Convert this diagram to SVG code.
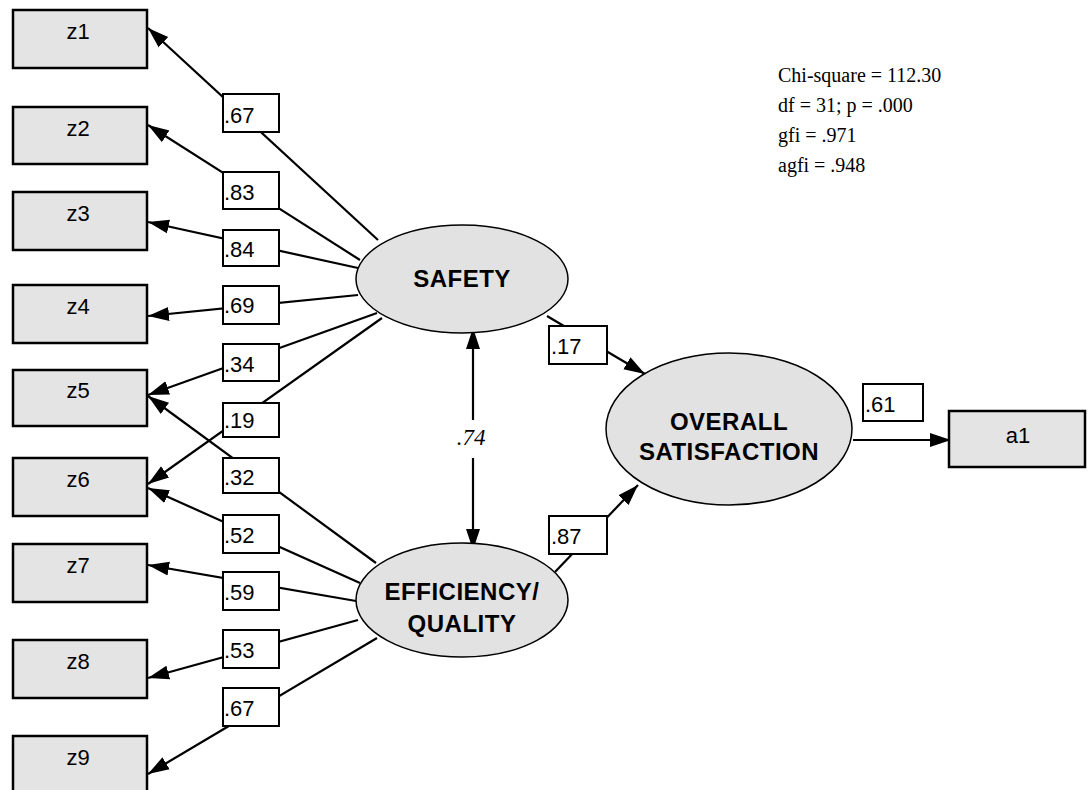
<svg xmlns="http://www.w3.org/2000/svg" width="1090" height="790" viewBox="0 0 1090 790">
  <style>
    .obs { fill: #e4e4e4; stroke: #000; stroke-width: 2.5; }
    .lat { fill: #e2e2e2; stroke: #000; stroke-width: 1.5; }
    .lbl { fill: #fff; stroke: #000; stroke-width: 2; }
    .edge { stroke: #000; stroke-width: 2.2; fill: none; marker-end: url(#arrow); }
    .obs-t { font-family: "Liberation Sans", Arial, sans-serif; font-size: 22px; text-anchor: middle; fill: #000; }
    .lat-t { font-family: "Liberation Sans", Arial, sans-serif; font-size: 24px; font-weight: bold; text-anchor: middle; fill: #000; letter-spacing: 0.5px; }
    .num { font-family: "Liberation Sans", Arial, sans-serif; font-size: 22px; fill: #000; }
    .fit { font-family: "Liberation Serif", "Times New Roman", serif; font-size: 20px; fill: #000; }
  </style>
  <defs>
    <marker id="arrow" markerUnits="userSpaceOnUse" markerWidth="22" markerHeight="16" refX="21" refY="8" orient="auto">
      <path d="M0,1 L21,8 L0,15 z" fill="#000"/>
    </marker>
  </defs>
  <rect width="1090" height="790" fill="#fff"/>

  <!-- path lines -->
  <g id="connectors">
    <!-- SAFETY indicators -->
    <line class="edge" x1="378" y1="240" x2="148" y2="28"/>
    <line class="edge" x1="360" y1="260" x2="148" y2="125"/>
    <line class="edge" x1="358" y1="268" x2="148" y2="222"/>
    <line class="edge" x1="358" y1="295" x2="148" y2="316"/>
    <line class="edge" x1="377" y1="313" x2="148" y2="395"/>
    <line class="edge" x1="382" y1="318" x2="148" y2="484"/>
    <!-- EFFICIENCY/QUALITY indicators -->
    <line class="edge" x1="376" y1="563" x2="148" y2="396"/>
    <line class="edge" x1="360" y1="583" x2="148" y2="488"/>
    <line class="edge" x1="356" y1="601" x2="148" y2="565"/>
    <line class="edge" x1="358" y1="620" x2="148" y2="678"/>
    <line class="edge" x1="377" y1="638" x2="148" y2="774"/>
    <!-- structural paths -->
    <line class="edge" x1="547" y1="316" x2="645" y2="374"/>
    <line class="edge" x1="555" y1="572" x2="638" y2="485"/>
    <line class="edge" x1="853" y1="440" x2="951" y2="440"/>
    <!-- correlation -->
    <line class="edge" x1="473" y1="420" x2="473" y2="328"/>
    <line class="edge" x1="473" y1="458" x2="473" y2="550"/>
  </g>

  <!-- coefficient labels -->
  <g id="coefficients">
    <g id="c-z1"><rect class="lbl" x="223" y="94" width="56" height="38"/><text class="num" x="224" y="123">.67</text></g>
    <g id="c-z2"><rect class="lbl" x="223" y="172" width="56" height="37"/><text class="num" x="224" y="200">.83</text></g>
    <g id="c-z3"><rect class="lbl" x="223" y="230" width="56" height="36"/><text class="num" x="224" y="257">.84</text></g>
    <g id="c-z4"><rect class="lbl" x="223" y="286" width="56" height="38"/><text class="num" x="224" y="313">.69</text></g>
    <g id="c-z5a"><rect class="lbl" x="223" y="344" width="56" height="37"/><text class="num" x="224" y="372">.34</text></g>
    <g id="c-z6a"><rect class="lbl" x="223" y="403" width="56" height="34"/><text class="num" x="224" y="428">.19</text></g>
    <g id="c-z5b"><rect class="lbl" x="223" y="458" width="56" height="35"/><text class="num" x="224" y="485">.32</text></g>
    <g id="c-z6b"><rect class="lbl" x="223" y="515" width="56" height="38"/><text class="num" x="224" y="543">.52</text></g>
    <g id="c-z7"><rect class="lbl" x="223" y="572" width="56" height="38"/><text class="num" x="224" y="600">.59</text></g>
    <g id="c-z8"><rect class="lbl" x="223" y="630" width="56" height="38"/><text class="num" x="224" y="658">.53</text></g>
    <g id="c-z9"><rect class="lbl" x="223" y="688" width="56" height="38"/><text class="num" x="224" y="716">.67</text></g>
    <g id="c-sat1"><rect class="lbl" x="549" y="326" width="58" height="38"/><text class="num" x="551" y="354">.17</text></g>
    <g id="c-sat2"><rect class="lbl" x="549" y="516" width="58" height="38"/><text class="num" x="551" y="544">.87</text></g>
    <g id="c-a1"><rect class="lbl" x="863" y="384" width="60" height="37"/><text class="num" x="865" y="412">.61</text></g>
    <text id="c-corr" x="471" y="445" font-family="Liberation Serif, Times New Roman, serif" font-style="italic" font-size="23" text-anchor="middle">.74</text>
  </g>

  <!-- observed indicators -->
  <g id="z1"><rect class="obs" x="13" y="10" width="134" height="58"/><text class="obs-t" x="78" y="39">z1</text></g>
  <g id="z2"><rect class="obs" x="13" y="107" width="134" height="57"/><text class="obs-t" x="78" y="136">z2</text></g>
  <g id="z3"><rect class="obs" x="13" y="192" width="134" height="58"/><text class="obs-t" x="78" y="221">z3</text></g>
  <g id="z4"><rect class="obs" x="13" y="285" width="134" height="58"/><text class="obs-t" x="78" y="314">z4</text></g>
  <g id="z5"><rect class="obs" x="13" y="370" width="134" height="56"/><text class="obs-t" x="78" y="398">z5</text></g>
  <g id="z6"><rect class="obs" x="13" y="458" width="134" height="58"/><text class="obs-t" x="78" y="487">z6</text></g>
  <g id="z7"><rect class="obs" x="13" y="544" width="134" height="58"/><text class="obs-t" x="78" y="573">z7</text></g>
  <g id="z8"><rect class="obs" x="13" y="640" width="134" height="58"/><text class="obs-t" x="78" y="669">z8</text></g>
  <g id="z9"><rect class="obs" x="13" y="736" width="134" height="60"/><text class="obs-t" x="78" y="765">z9</text></g>
  <g id="a1"><rect class="obs" x="949" y="411" width="136" height="56"/><text class="obs-t" x="1018" y="443">a1</text></g>

  <!-- latent constructs -->
  <g id="safety"><ellipse class="lat" cx="462" cy="279" rx="106" ry="54"/><text class="lat-t" x="462" y="287">SAFETY</text></g>
  <g id="efficiency"><ellipse class="lat" cx="462" cy="600" rx="106" ry="57"/><text class="lat-t" x="462" y="600">EFFICIENCY/</text><text class="lat-t" x="462" y="632">QUALITY</text></g>
  <g id="overall"><ellipse class="lat" cx="729" cy="429" rx="123" ry="76"/><text class="lat-t" x="729" y="430">OVERALL</text><text class="lat-t" x="729" y="460">SATISFACTION</text></g>

  <!-- fit statistics -->
  <g id="fit-stats">
    <text class="fit" x="778" y="82">Chi-square = 112.30</text>
    <text class="fit" x="778" y="112">df = 31; p = .000</text>
    <text class="fit" x="778" y="142">gfi = .971</text>
    <text class="fit" x="778" y="172">agfi = .948</text>
  </g>
</svg>
